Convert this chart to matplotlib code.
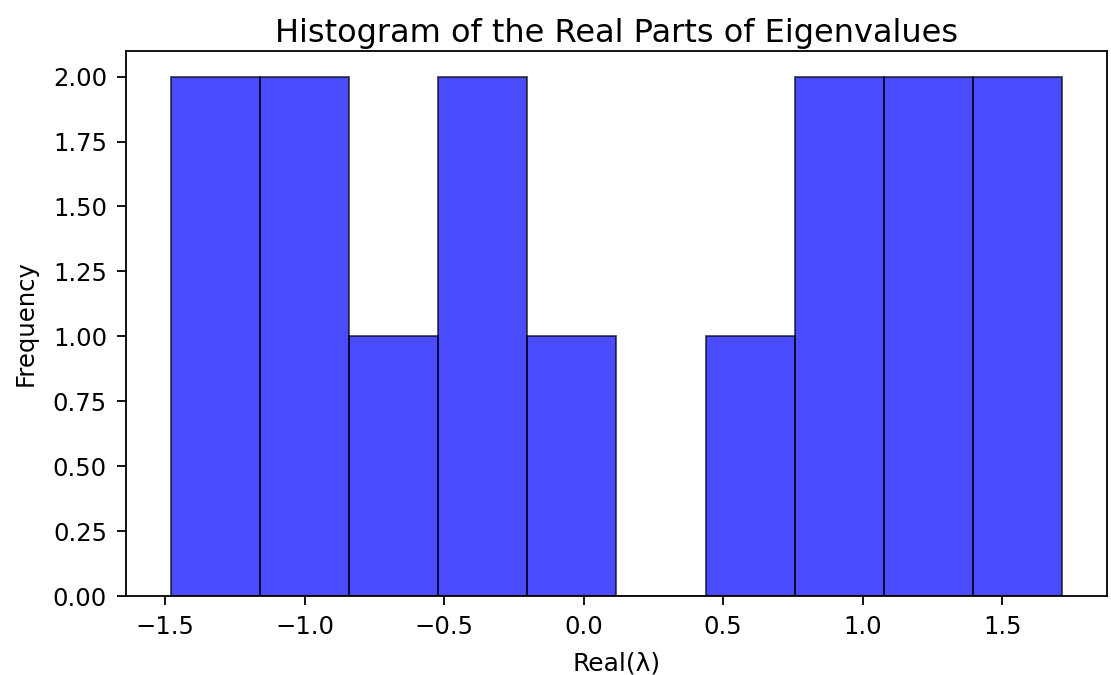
import numpy as np
import matplotlib
matplotlib.use("Agg")
import matplotlib.pyplot as plt

# Histogram data
real_min = -1.480
real_max = 1.716
n_bins = 10
counts = [2, 2, 1, 2, 1, 0, 1, 2, 2, 2]

title = "Histogram of the Real Parts of Eigenvalues"
xlabel = "Real(λ)"
ylabel = "Frequency"

edges = np.linspace(real_min, real_max, n_bins + 1)
centers = (edges[:-1] + edges[1:]) / 2

fig = plt.figure(figsize=(11.11, 6.75), dpi=100)
ax = fig.add_axes([0.1134, 0.117, 0.8830, 0.808])
ax.hist(centers, bins=edges, weights=counts, color="blue", alpha=0.7,
        edgecolor="black", linewidth=1.3)
ax.set_title(title, fontsize=23, pad=6.3)
ax.set_xlabel(xlabel, fontsize=18, labelpad=9)
ax.set_ylabel(ylabel, fontsize=17.5, labelpad=11)
ax.tick_params(labelsize=17.5, length=6.2, width=1.3, pad=7.5)
ax.yaxis.set_major_formatter(matplotlib.ticker.FormatStrFormatter("%.2f"))
for s in ax.spines.values():
    s.set_linewidth(1.3)

fig.savefig("out.png", dpi=100)
